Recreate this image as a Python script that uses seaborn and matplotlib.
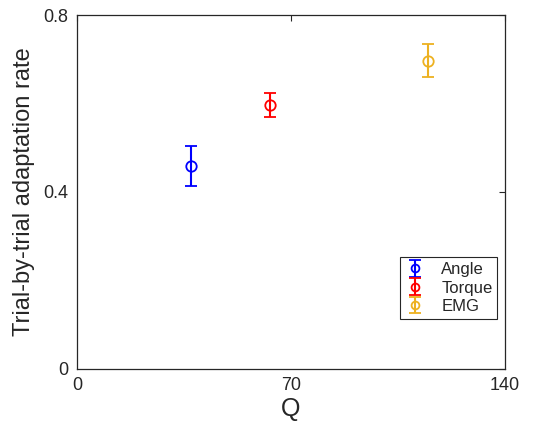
import numpy as np
import pandas as pd
import matplotlib
matplotlib.use('Agg')
import matplotlib.pyplot as plt
import seaborn as sns

# data
methods = ['Angle', 'Torque', 'EMG']
q_values = [37.2, 63.2, 114.8]
rates = [0.459, 0.597, 0.697]
rate_err = [0.045, 0.027, 0.037]
colors = ['#0000FF', '#FF0000', '#EDB120']

df = pd.DataFrame({'Q': q_values, 'rate': rates, 'err': rate_err, 'method': methods})

sns.set_style('white')
plt.rcParams['font.family'] = ['Liberation Sans', 'DejaVu Sans']

fig = plt.figure(figsize=(5.42, 4.30), dpi=100)
ax = fig.add_axes([0.142, 0.142, 0.790, 0.823])

for i, row in df.iterrows():
    ax.errorbar(row['Q'], row['rate'], yerr=row['err'], fmt='o', color=colors[i],
                mfc='none', mec=colors[i], ms=7.5, mew=1.3, elinewidth=1.5,
                capsize=4, capthick=1.5, label=row['method'])

ax.set_xlim(0, 140)
ax.set_ylim(0, 0.8)
ax.set_xticks([0, 70, 140])
ax.set_yticks([0, 0.4, 0.8])
ax.set_yticklabels(['0', '0.4', '0.8'])
ax.tick_params(direction='in', top=True, right=True, length=4, width=0.8,
               labelsize=13, colors='#262626', pad=6)
for s in ax.spines.values():
    s.set_color('#262626')
    s.set_linewidth(0.9)

ax.set_xlabel('Q', fontsize=18, color='#262626', labelpad=2)
ax.set_ylabel('Trial-by-trial adaptation rate', fontsize=17, color='#262626', labelpad=6)

leg = ax.legend(loc='lower left', bbox_to_anchor=(0.734, 0.118), fontsize=12,
                fancybox=False, framealpha=1, edgecolor='#262626', markerscale=0.75,
                handlelength=1.2, handletextpad=1.0, borderpad=0.3, labelspacing=0.2)
leg.get_frame().set_linewidth(0.8)

fig.savefig('out.png', dpi=100)
